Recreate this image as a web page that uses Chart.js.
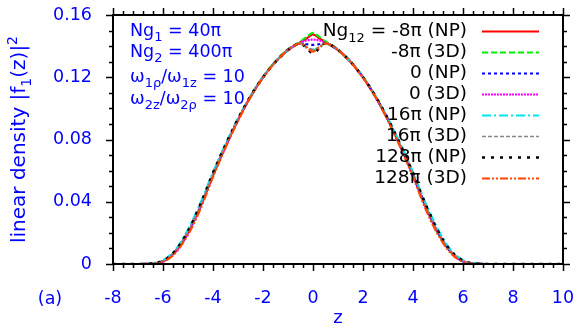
<!DOCTYPE html>
<html>
<head>
<meta charset="utf-8">
<script src="https://cdn.jsdelivr.net/npm/chart.js@4"></script>
<style>
  html, body { margin: 0; padding: 0; background: #fff; }
  #wrap { width: 581px; height: 332px; }
</style>
</head>
<body>
<div id="wrap"><canvas id="densityChart" width="581" height="332"></canvas></div>
<script>
// z grid shared by all curves
const zVals = [-8, -7, -6.5, -6, -5.5, -5, -4.5, -4, -3.5, -3, -2.5, -2, -1.5, -1, -0.5, -0.25,
               0, 0.25, 0.5, 1, 1.5, 2, 2.5, 3, 3.5, 4, 4.5, 5, 5.5, 6, 6.5, 7, 8, 9, 10];

// linear density, one array per curve
const np_m8 = [0, 0, 0.0002, 0.0017, 0.008, 0.020, 0.037, 0.057, 0.0755, 0.0925, 0.1075, 0.120, 0.130, 0.1375, 0.1425, 0.145,
               0.1475, 0.145, 0.1425, 0.1375, 0.130, 0.120, 0.1075, 0.0925, 0.0755, 0.057, 0.037, 0.020, 0.008, 0.0017, 0.0002, 0, 0, 0, 0];
const d3_m8 = [0, 0, 0.0002, 0.0017, 0.0078, 0.020, 0.037, 0.057, 0.0755, 0.0927, 0.1077, 0.1203, 0.1303, 0.138, 0.143, 0.146,
               0.1485, 0.146, 0.143, 0.138, 0.1303, 0.1203, 0.1077, 0.0927, 0.0755, 0.057, 0.037, 0.020, 0.0078, 0.0017, 0.0002, 0, 0, 0, 0];
const np_0 = [0, 0, 0.0002, 0.0018, 0.0082, 0.0205, 0.0375, 0.0575, 0.076, 0.093, 0.1075, 0.120, 0.130, 0.1375, 0.1418, 0.1412,
              0.1408, 0.1412, 0.1418, 0.1375, 0.130, 0.120, 0.1075, 0.093, 0.076, 0.0575, 0.0375, 0.0205, 0.0082, 0.0018, 0.0002, 0, 0, 0, 0];
const d3_0 = [0, 0, 0.0002, 0.0017, 0.008, 0.020, 0.037, 0.057, 0.0755, 0.0925, 0.1075, 0.120, 0.130, 0.1378, 0.1422, 0.1436,
              0.1442, 0.1436, 0.1422, 0.1378, 0.130, 0.120, 0.1075, 0.0925, 0.0755, 0.057, 0.037, 0.020, 0.008, 0.0017, 0.0002, 0, 0, 0, 0];
const np_16 = [0, 0, 0.0004, 0.0024, 0.0092, 0.0222, 0.0392, 0.059, 0.077, 0.0935, 0.108, 0.1202, 0.130, 0.1375, 0.1418, 0.139,
               0.1375, 0.139, 0.1418, 0.1375, 0.130, 0.1202, 0.108, 0.0935, 0.077, 0.059, 0.0392, 0.0222, 0.0092, 0.0024, 0.0004, 0, 0, 0, 0];
const d3_16 = [0, 0, 0.0003, 0.002, 0.0085, 0.021, 0.038, 0.058, 0.0762, 0.093, 0.1077, 0.120, 0.130, 0.1377, 0.142, 0.1395,
               0.138, 0.1395, 0.142, 0.1377, 0.130, 0.120, 0.1077, 0.093, 0.0762, 0.058, 0.038, 0.021, 0.0085, 0.002, 0.0003, 0, 0, 0, 0];
const np_128 = [0, 0, 0.0003, 0.0021, 0.0087, 0.0212, 0.0385, 0.0585, 0.0766, 0.0932, 0.1078, 0.120, 0.1298, 0.1375, 0.1418, 0.1385,
                0.1355, 0.1385, 0.1418, 0.1375, 0.1298, 0.120, 0.1078, 0.0932, 0.0766, 0.0585, 0.0385, 0.0212, 0.0087, 0.0021, 0.0003, 0, 0, 0, 0];
const d3_128 = [0, 0, 0.0001, 0.0014, 0.0072, 0.0188, 0.0355, 0.056, 0.0748, 0.092, 0.1072, 0.1197, 0.1298, 0.1375, 0.1418, 0.139,
                0.1365, 0.139, 0.1418, 0.1375, 0.1298, 0.1197, 0.1072, 0.092, 0.0748, 0.056, 0.0355, 0.0188, 0.0072, 0.0014, 0.0001, 0, 0, 0, 0];

// legend labels (value of Ng12 and model)
const seriesLabels = ['-8\u03c0 (NP)', '-8\u03c0 (3D)', '0 (NP)', '0 (3D)', '16\u03c0 (NP)', '16\u03c0 (3D)', '128\u03c0 (NP)', '128\u03c0 (3D)'];
const seriesData = [np_m8, d3_m8, np_0, d3_0, np_16, d3_16, np_128, d3_128];

// tick values
const xTicks = [-8, -6, -4, -2, 0, 2, 4, 6, 8, 10];
const yTicks = [0, 0.04, 0.08, 0.12, 0.16];

const styles = [
    { color: '#ff0000', dash: [], width: 2.2 },
    { color: '#00ee00', dash: [6, 3], width: 2.2 },
    { color: '#0000ff', dash: [3, 3], width: 2.2 },
    { color: '#ff00ff', dash: [2, 1], width: 2.2 },
    { color: '#00e5ee', dash: [9, 3, 2, 3], width: 2.2 },
    { color: '#888888', dash: [4, 2], width: 1.6 },
    { color: '#000000', dash: [3, 6], width: 2.6 },
    { color: '#ff4500', dash: [8, 2, 2, 2, 2, 2], width: 2.2 }
];

const FONT = '"DejaVu Sans", sans-serif';
const BLUE = '#0000ff';

// draw text made of parts: s=0 normal, s=-1 subscript, s=1 superscript
function drawRich(ctx, parts, x, y, size, align) {
    const widths = parts.map(p => {
        ctx.font = (p.s ? Math.round(size * 0.72) : size) + 'px ' + FONT;
        return ctx.measureText(p.t).width;
    });
    const total = widths.reduce((a, b) => a + b, 0);
    let cx = x;
    if (align === 'right') cx = x - total;
    else if (align === 'center') cx = x - total / 2;
    ctx.textAlign = 'left';
    parts.forEach((p, i) => {
        ctx.font = (p.s ? Math.round(size * 0.72) : size) + 'px ' + FONT;
        const dy = p.s === -1 ? size * 0.3 : (p.s === 1 ? -size * 0.42 : 0);
        ctx.fillText(p.t, cx, y + dy);
        cx += widths[i];
    });
}

const framePlugin = {
    id: 'frame',
    afterDatasetsDraw(chart) {
        const ctx = chart.ctx;
        const a = chart.chartArea;
        const xs = chart.scales.x, ys = chart.scales.y;
        ctx.save();
        ctx.strokeStyle = '#000';
        ctx.lineWidth = 2;
        ctx.strokeRect(a.left, a.top, a.right - a.left, a.bottom - a.top);
        ctx.lineWidth = 1.5;
        ctx.beginPath();
        // x ticks, major every 2, minor every 0.4
        for (let i = 0; i <= 45; i++) {
            const v = -8 + i * 0.4;
            const px = Math.round(xs.getPixelForValue(v)) + 0.5;
            const len = i % 5 === 0 ? 7 : 4;
            ctx.moveTo(px, a.bottom); ctx.lineTo(px, a.bottom + len);
            ctx.moveTo(px, a.top); ctx.lineTo(px, a.top - len);
        }
        // y ticks, major every 0.04, minor every 0.01
        for (let j = 0; j <= 16; j++) {
            const v = j * 0.01;
            const py = Math.round(ys.getPixelForValue(v)) + 0.5;
            const len = j % 4 === 0 ? 7 : 4;
            ctx.moveTo(a.left, py); ctx.lineTo(a.left - len, py);
            ctx.moveTo(a.right, py); ctx.lineTo(a.right + len, py);
        }
        ctx.stroke();
        ctx.restore();
    },
    afterDraw(chart) {
        const ctx = chart.ctx;
        const a = chart.chartArea;
        ctx.save();
        ctx.textBaseline = 'alphabetic';

        // parameter block, blue
        ctx.fillStyle = BLUE;
        drawRich(ctx, [{t: 'Ng', s: 0}, {t: '1', s: -1}, {t: ' = 40\u03c0', s: 0}], 130, 36, 17.5, 'left');
        drawRich(ctx, [{t: 'Ng', s: 0}, {t: '2', s: -1}, {t: ' = 400\u03c0', s: 0}], 130, 57, 17.5, 'left');
        drawRich(ctx, [{t: '\u03c9', s: 0}, {t: '1\u03c1', s: -1}, {t: '/\u03c9', s: 0}, {t: '1z', s: -1}, {t: ' = 10', s: 0}], 130, 82, 17.5, 'left');
        drawRich(ctx, [{t: '\u03c9', s: 0}, {t: '2z', s: -1}, {t: '/\u03c9', s: 0}, {t: '2\u03c1', s: -1}, {t: ' = 10', s: 0}], 130, 104, 17.5, 'left');

        // axis titles
        drawRich(ctx, [{t: 'z', s: 0}], (a.left + a.right) / 2, 323, 18, 'center');
        drawRich(ctx, [{t: '(a)', s: 0}], 50, 304, 17.5, 'center');
        ctx.save();
        ctx.translate(25, (a.top + a.bottom) / 2);
        ctx.rotate(-Math.PI / 2);
        drawRich(ctx, [{t: 'linear density |f', s: 0}, {t: '1', s: -1}, {t: '(z)|', s: 0}, {t: '2', s: 1}], 0, 0, 20, 'center');
        ctx.restore();

        // legend, black text right aligned, sample lines on the right
        ctx.fillStyle = '#000';
        seriesLabels.forEach((lab, i) => {
            const base = 36 + 21 * i;
            const parts = i === 0
                ? [{t: 'Ng', s: 0}, {t: '12', s: -1}, {t: ' = ' + lab, s: 0}]
                : [{t: lab, s: 0}];
            drawRich(ctx, parts, 467, base, 18.5, 'right');
            const st = styles[i];
            ctx.beginPath();
            ctx.strokeStyle = st.color;
            ctx.lineWidth = st.width;
            ctx.setLineDash(st.dash);
            ctx.moveTo(482, base - 4.5);
            ctx.lineTo(539, base - 4.5);
            ctx.stroke();
        });
        ctx.setLineDash([]);
        ctx.restore();
    }
};

const datasets = seriesData.map((vals, i) => ({
    label: seriesLabels[i],
    data: vals.map((v, k) => ({ x: zVals[k], y: v })),
    borderColor: styles[i].color,
    borderDash: styles[i].dash,
    borderWidth: styles[i].width,
    pointRadius: 0,
    fill: false,
    cubicInterpolationMode: 'monotone',
    order: 7 - i
}));

new Chart(document.getElementById('densityChart').getContext('2d'), {
    type: 'line',
    data: { datasets: datasets },
    options: {
        responsive: false,
        animation: false,
        layout: { padding: { top: 15, right: 18, left: 0, bottom: 0 } },
        plugins: {
            legend: { display: false },
            tooltip: { enabled: false }
        },
        scales: {
            x: {
                type: 'linear',
                min: -8,
                max: 10,
                afterBuildTicks: s => { s.ticks = xTicks.map(v => ({ value: v })); },
                afterFit: s => {
                    s.height = 68;
                    s.paddingLeft = 0; s.paddingRight = 0;
                    s.paddingTop = 0; s.paddingBottom = 0;
                },
                grid: { display: false, drawTicks: false },
                border: { display: false },
                ticks: {
                    color: BLUE,
                    font: { family: FONT, size: 17.5 },
                    padding: 24,
                    maxRotation: 0,
                    callback: v => String(v)
                }
            },
            y: {
                min: 0,
                max: 0.16,
                afterBuildTicks: s => { s.ticks = yTicks.map(v => ({ value: v })); },
                afterFit: s => {
                    s.width = 113;
                    s.paddingLeft = 0; s.paddingRight = 0;
                    s.paddingTop = 0; s.paddingBottom = 0;
                },
                grid: { display: false, drawTicks: false },
                border: { display: false },
                ticks: {
                    color: BLUE,
                    font: { family: FONT, size: 17.5 },
                    padding: 21,
                    callback: v => v === 0 ? '0' : v.toFixed(2)
                }
            }
        }
    },
    plugins: [framePlugin]
});
</script>
</body>
</html>
